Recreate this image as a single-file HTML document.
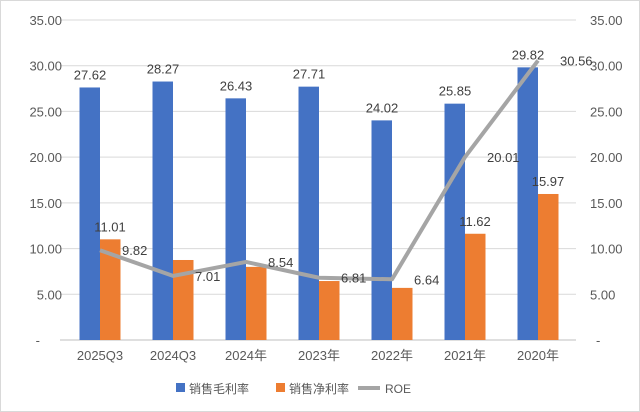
<!DOCTYPE html>
<html><head><meta charset="utf-8"><style>
body{margin:0;background:#fff}
svg{display:block;font-family:"Liberation Sans","Noto Sans CJK SC",sans-serif}
</style></head><body>
<svg id="c" width="640" height="412">
<rect x="0.5" y="0.5" width="639" height="411" fill="#fff" stroke="#d9d9d9"/>
</svg>
<script>
const categories=["2025Q3","2024Q3","2024年","2023年","2022年","2021年","2020年"];
const grossMargin=[27.62,28.27,26.43,27.71,24.02,25.85,29.82];
const netMargin=[11.01,8.75,8.0,6.45,5.7,11.62,15.97];
const roe=[9.82,7.01,8.54,6.81,6.64,20.01,30.56];
const ticks=[0,5,10,15,20,25,30,35];
const netLabelShown=[true,false,false,false,false,true,true];
const svg=document.getElementById('c');
const NS='http://www.w3.org/2000/svg';
const x0=63.5,step=73,yb=340,ppu=9.143;
const y=v=>yb-v*ppu;
const xc=i=>x0+step*(i+0.5);
function mk(t,a,txt){const e=document.createElementNS(NS,t);for(const k in a)e.setAttribute(k,a[k]);if(txt!==undefined)e.textContent=txt;svg.appendChild(e);return e;}
ticks.forEach(t=>{
 const g=mk('line',{x1:60,x2:576,y1:y(t),y2:y(t),stroke:t===0?'#bfbfbf':'#d9d9d9','stroke-width':1});
 
 
 const lab=t===0?'-':t.toFixed(2);
 const l=mk('text',{x:t===0?40:62,y:y(t)+5,'text-anchor':'end','font-size':13,fill:'#595959'},lab);
 
 
 const r=mk('text',{x:t===0?596:590,y:y(t)+5,'text-anchor':'start','font-size':13,fill:'#595959'},lab);
 
 
});
categories.forEach((c,i)=>{
 const cx=xc(i);
 const b=mk('rect',{x:cx-20.5,y:y(grossMargin[i]),width:20.5,height:grossMargin[i]*ppu,fill:'#4472C4'});
 
 
 const o=mk('rect',{x:cx,y:y(netMargin[i]),width:20.5,height:netMargin[i]*ppu,fill:'#ED7D31'});
 
 
 const bl=mk('text',{x:cx-10,y:y(grossMargin[i])-8,'text-anchor':'middle','font-size':13,fill:'#404040'},grossMargin[i].toFixed(2));
 
 
 if(netLabelShown[i]){
  const ol=mk('text',{x:cx+10,y:y(netMargin[i])-8,'text-anchor':'middle','font-size':13,fill:'#404040'},netMargin[i].toFixed(2));
  
  
 }
 const xl=mk('text',{x:cx,y:360,'text-anchor':'middle','font-size':13,fill:'#595959'},c);
 
 
});
const pl=mk('polyline',{points:roe.map((v,i)=>xc(i)+','+y(v)).join(' '),fill:'none',stroke:'#A5A5A5','stroke-width':4,'stroke-linejoin':'round'});


roe.forEach((v,i)=>{
 const t=mk('text',{x:xc(i)+22,y:y(v)+5,'text-anchor':'start','font-size':13,fill:'#404040'},v.toFixed(2));
 
 
});
const legend=[["销售毛利率",'#4472C4',176,'rect'],["销售净利率",'#ED7D31',276,'rect'],["ROE",'#A5A5A5',366,'line']];
legend.forEach(l=>{
 if(l[3]==='rect'){const r=mk('rect',{x:l[2],y:383,width:9,height:9,fill:l[1]});}
 else{const r=mk('line',{x1:l[2]-8,x2:l[2]+14,y1:388,y2:388,stroke:l[1],'stroke-width':4});}
 const t=mk('text',{x:l[2]+(l[3]==='rect'?13:19),y:393,'font-size':12,fill:'#595959'},l[0]);
 
 
});
</script>
</body></html>
